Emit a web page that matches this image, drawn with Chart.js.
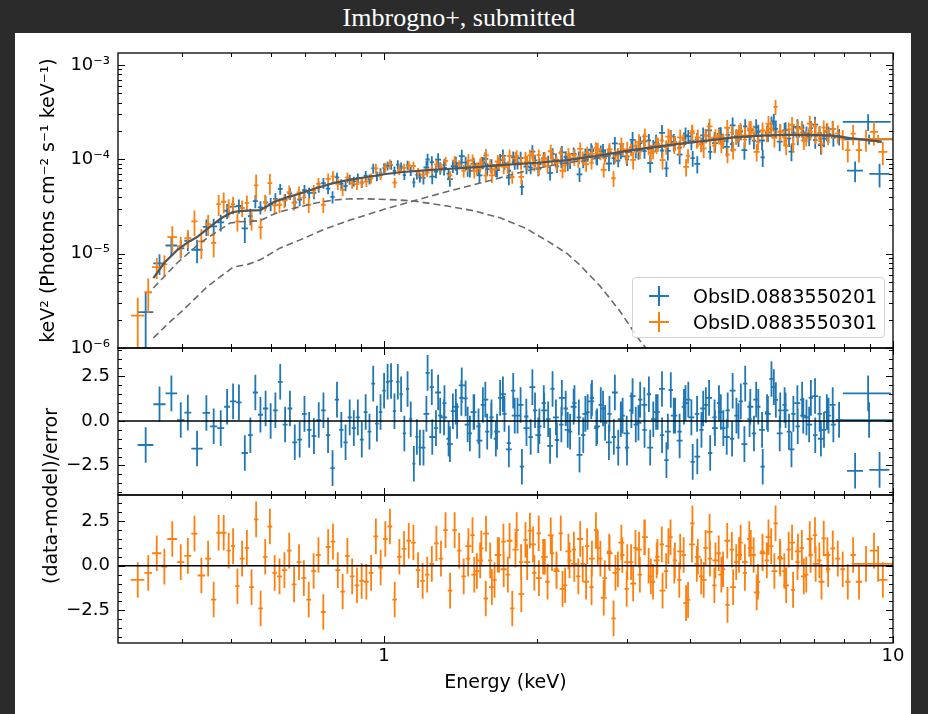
<!DOCTYPE html>
<html>
<head>
<meta charset="utf-8">
<title>Imbrogno+, submitted</title>
<script src="https://cdn.jsdelivr.net/npm/chart.js@4.4.0/dist/chart.umd.min.js"></script>
<style>
  html, body { margin: 0; padding: 0; background: #2b2b2b; }
  #page { position: relative; width: 928px; height: 714px; overflow: hidden; background: #2b2b2b; font-family: "DejaVu Sans", sans-serif; }
  #title { position: absolute; left: 0; top: 3px; width: 918px; text-align: center; color: #fff; font: 26px "Liberation Serif", serif; }
  #sheet { position: absolute; left: 15px; top: 33px; width: 896px; height: 681px; background: #fff; }
  #page canvas { position: absolute; left: 0; top: 0; }
  #residLabel { position: absolute; left: 50px; top: 496px; transform: translate(-50%, -50%) rotate(-90deg); font-size: 19px; white-space: nowrap; color: #000; }
  #legend { position: absolute; left: 632px; top: 277px; width: 253px; height: 61px; box-sizing: border-box; border: 1px solid #d4d4d4; border-radius: 4px; background: rgba(255, 255, 255, 0.8); }
  .entry { position: absolute; left: 0; width: 100%; height: 24px; }
  .mark { position: absolute; left: 16px; top: 2px; width: 20px; height: 20px; }
  .mark::before { content: ""; position: absolute; left: 0; top: 9px; width: 20px; height: 2px; background: var(--c); }
  .mark::after { content: ""; position: absolute; left: 9px; top: 0; width: 2px; height: 20px; background: var(--c); }
  .entry span { position: absolute; left: 60px; top: 0; line-height: 24px; font-size: 19px; color: #000; }
</style>
</head>
<body>
<div id="page">
  <div id="title">Imbrogno+, submitted</div>
  <div id="sheet"></div>
  <canvas id="cTop" width="928" height="714"></canvas>
  <canvas id="cMid" width="928" height="714"></canvas>
  <canvas id="cBot" width="928" height="714"></canvas>
  <div id="residLabel">(data-model)/error</div>
  <div id="legend">
    <div class="entry" style="top:6px"><div class="mark" style="--c:#1f77b4"></div><span>ObsID.0883550201</span></div>
    <div class="entry" style="top:32px"><div class="mark" style="--c:#ff7f0e"></div><span>ObsID.0883550301</span></div>
  </div>
</div>
<script>
// flux values are in units of 1e-5 keV^2 (Photons cm^-2 s^-1 keV^-1)
const FLUX_UNIT = 1e-5;

// ---- ObsID.0883550201 (blue), first binning ----
const blueEdges = [
  0.328, 0.352, 0.372, 0.392, 0.405, 0.418, 0.440, 0.455, 0.470, 0.485,
  0.498, 0.512, 0.525, 0.540, 0.552, 0.565, 0.578, 0.592, 0.605, 0.618,
  0.632, 0.646, 0.660, 0.675, 0.690, 0.705, 0.720, 0.736, 0.752, 0.768,
  0.784, 0.800, 0.816, 0.832, 0.848, 0.864, 0.880, 0.896, 0.912, 0.928,
  0.944, 0.960, 0.976, 0.992, 1.008, 1.024, 1.040, 1.056, 1.072, 1.088,
  1.104, 1.120, 1.136, 1.152, 1.168, 1.184,
  1.206, 1.229, 1.253, 1.276, 1.302, 1.326, 1.352, 1.378, 1.405, 1.432,
  1.460, 1.489, 1.518, 1.548, 1.579, 1.610, 1.642, 1.674, 1.707, 1.741,
  1.776, 1.811, 1.847, 1.884, 1.922, 1.960, 1.999, 2.039, 2.080, 2.122,
  2.164, 2.208, 2.252, 2.297, 2.343, 2.390, 2.438, 2.487, 2.536, 2.587,
  2.639, 2.692, 2.745, 2.800, 2.856, 2.913, 2.972, 3.031, 3.092, 3.154,
  3.217, 3.281, 3.347, 3.414, 3.482, 3.552, 3.623, 3.695, 3.769, 3.845,
  3.922, 4.000, 4.080, 4.162, 4.245, 4.330, 4.416, 4.505, 4.595, 4.687,
  4.780, 4.876, 4.973, 5.073, 5.174, 5.278, 5.383, 5.491, 5.601, 5.713,
  5.827, 5.944, 6.063, 6.184, 6.308, 6.434, 6.563, 6.694, 6.828, 6.964,
  7.104, 7.246, 7.391, 7.55, 7.72, 7.95, 10.0
];
const blueFlux = [
  0.24, 0.79, 1.22, 1.14, 1.37, 1.10, 1.92, 1.95, 2.15, 2.85,
  3.15, 3.20, 1.85, 2.50, 3.60, 3.10, 3.50, 3.35, 3.80, 4.85,
  3.72, 4.35, 3.50, 3.75, 4.70, 4.40, 4.40, 5.08, 5.60, 4.90,
  4.00, 6.45, 5.50, 5.20, 6.12, 5.85, 6.32, 5.65, 6.72, 6.15,
  8.00, 6.65, 7.20, 8.10, 8.55, 8.70, 7.55, 8.80, 8.35, 6.80,
  8.70, 7.50, 5.70, 6.85, 6.40,
  6.37, 9.96, 9.35, 7.43, 8.08, 8.74, 7.05, 8.45, 8.02, 9.24,
  9.28, 7.57, 8.71, 8.05, 9.21, 7.88, 8.69, 7.63, 9.88, 9.09,
  7.57, 10.5, 9.19, 5.10, 9.25, 8.18, 9.75, 8.92, 10.3, 9.50,
  11.4, 8.44, 9.47, 10.6, 9.30, 11.2, 10.5, 9.48, 11.1, 12.2,
  10.4, 12.2, 11.1, 11.9, 10.3, 9.68, 12.4, 10.0, 13.4, 12.3,
  14.9, 12.2, 15.9, 13.7, 14.5, 12.4, 8.00, 17.5, 14.9, 13.4,
  16.5, 17.5, 10.3, 16.3, 14.5, 17.8, 12.0, 16.6, 18.6, 15.6,
  18.2, 14.5, 17.7, 19.7, 22.3, 17.6, 15.8, 19.6, 10.5, 19.1,
  23.9, 21.0, 19.6, 20.4, 16.7, 19.2, 17.4, 21.3, 18.7, 21.4,
  16.0, 19.0, 16.6, 18.6, 17.0, 17.5, 16.3
];
const blueErrPct = [
  60, 25, 22, 22, 22, 28, 20, 20, 20, 18,
  17, 17, 30, 20, 16, 16, 16, 16, 15, 13,
  15, 15, 15, 15, 14, 14, 14, 13, 13, 13,
  15, 12, 12, 12, 12, 12, 12, 12, 12, 12,
  12, 12, 12, 12, 11, 11, 11, 11, 11, 11,
  11, 11, 12, 11, 11,
  15, 15, 15, 15, 15, 15, 15, 15, 15, 15,
  15, 15, 15, 15, 15, 15, 15, 15, 15, 15,
  15, 15, 15, 18, 15, 15, 15, 15, 15, 15,
  15, 15, 15, 15, 15, 15, 15, 15, 15, 15,
  15, 15, 15, 15, 15, 15, 15, 15, 17, 17,
  17, 17, 17, 17, 17, 17, 19, 17, 17, 17,
  17, 17, 19, 17, 17, 17, 17, 17, 17, 17,
  17, 17, 17, 19, 19, 19, 19, 19, 21, 19,
  19, 19, 19, 19, 19, 19, 19, 19, 19, 19,
  19, 19, 19, 20, 20, 20, 12
];
const blueResid = [
  -1.35, 0.94, 1.55, 0.05, 0.47, -1.55, 0.45, -0.3, -0.4, 0.8,
  1.1, 1.05, -1.8, -0.8, 1.6, 0.35, 0.7, 0.0, 0.6, 2.2,
  -0.2, 0.7, -1.2, -1.05, 0.4, -0.5, -0.85, 0.05, 0.6, -0.8,
  -2.65, 1.2, -0.5, -1.2, 0.2, -0.4, 0.2, -1.05, 0.5, -0.6,
  2.1, -0.15, 0.5, 1.7, 2.2, 2.25, 0.55, 2.2, 1.5, -0.7,
  1.8, 0.1, -2.4, -0.9, -1.5,
  -1.5, 2.7, 1.9, -0.4, 0.3, 1.0, -1.0, 0.55, 0.0, 1.3,
  1.27, -0.7, 0.5, -0.3, 0.9, -0.6, 0.2, -1.0, 1.3, 0.4,
  -1.25, 1.7, 0.3, -2.57, 0.25, -0.9, 0.6, -0.3, 1.0, 0.1,
  1.8, -1.07, -0.2, 0.7, -0.6, 1.0, 0.2, -0.8, 0.5, 1.3,
  -0.4, 0.9, -0.1, 0.4, -0.9, -1.5, 0.3, -1.5, 0.6, -0.2,
  1.2, -0.5, 1.5, 0.1, 0.5, -0.8, -2.2, 1.74, 0.3, -0.6,
  0.8, 1.2, -2.3, 0.4, -0.5, 0.9, -1.8, 0.2, 1.0, -0.4,
  0.6, -1.0, 0.3, 1.1, 2.1, 0.1, -0.7, 0.8, -2.57, 0.5,
  2.36, 1.18, 0.6, 0.9, -0.6, 0.4, -0.3, 1.2, 0.2, 1.3,
  -0.8, 0.4, -0.5, 0.3, -0.2, 0.06, 0.05
];

// ---- ObsID.0883550201 (blue), second binning 1.2-7.7 keV ----
const blueEdges2 = [
  1.195, 1.227, 1.260, 1.294, 1.329, 1.365, 1.402, 1.440, 1.479, 1.519,
  1.560, 1.602, 1.645, 1.689, 1.735, 1.782, 1.830, 1.879, 1.930, 1.982,
  2.036, 2.091, 2.147, 2.205, 2.265, 2.326, 2.389, 2.453, 2.519, 2.587,
  2.657, 2.729, 2.803, 2.879, 2.957, 3.037, 3.119, 3.203, 3.289, 3.378,
  3.469, 3.563, 3.659, 3.758, 3.859, 3.963, 4.070, 4.180, 4.293, 4.409,
  4.528, 4.650, 4.776, 4.905, 5.037, 5.173, 5.313, 5.456, 5.603, 5.754,
  5.910, 6.069, 6.233, 6.401, 6.574, 6.752, 6.934, 7.121, 7.313, 7.511,
  7.714
];
const blueFlux2 = [
  8.19, 6.55, 9.92, 8.13, 6.18, 9.09, 10.83, 7.88, 8.94, 6.77,
  10.13, 8.50, 7.71, 10.89, 6.39, 9.32, 10.31, 8.39, 12.04, 7.95,
  10.25, 7.19, 9.87, 11.84, 9.01, 11.42, 6.94, 11.16, 12.64, 10.34,
  12.42, 9.03, 14.76, 12.1, 10.75, 16.11, 12.53, 15.52, 9.14, 15.03,
  19.09, 12.32, 15.31, 11.23, 17.97, 15.79, 8.93, 17.95, 20.24, 14.84,
  18.12, 13.54, 22.93, 17.05, 12.54, 20.32, 21.97, 15.84, 19.35, 25.18,
  15.44, 20.44, 12.08, 22.02, 19.35, 17.39, 23.36, 14.18, 19.72, 21.05
];
const blueErrPct2 = [
  17, 17, 17, 17, 17, 17, 17, 17, 17, 17,
  17, 17, 17, 17, 17, 17, 17, 17, 17, 17,
  17, 17, 17, 17, 17, 17, 17, 17, 17, 17,
  17, 17, 17, 17, 17, 21, 21, 21, 21, 21,
  21, 21, 21, 21, 21, 21, 21, 21, 21, 21,
  21, 21, 21, 21, 21, 21, 21, 21, 21, 21,
  21, 21, 21, 21, 21, 21, 21, 21, 21, 21
];
const blueResid2 = [
  0.4, -0.9, 1.6, 0.2, -1.3, 0.8, 2.0, -0.2, 0.5, -1.1,
  1.2, 0.0, -0.6, 1.5, -1.6, 0.3, 0.9, -0.4, 1.9, -0.8,
  0.6, -1.4, 0.2, 1.3, -0.5, 0.8, -1.9, 0.4, 1.1, -0.3,
  0.7, -1.2, 1.6, 0.1, -0.7, 1.4, -0.1, 0.9, -1.5, 0.5,
  1.8, -0.6, 0.3, -1.1, 1.0, 0.2, -2.0, 0.7, 1.3, -0.4,
  0.5, -0.9, 1.7, 0.0, -1.3, 0.8, 1.2, -0.5, 0.4, 1.9,
  -0.7, 0.6, -1.6, 1.0, 0.3, -0.2, 1.4, -1.0, 0.5, 0.9
];
// overlapping high-energy bins
const blueExtraLo = [8.12, 8.98, 7.97];
const blueExtraHi = [8.73, 9.84, 9.90];
const blueExtraFlux = [7.6, 7.0, 25.0];
const blueExtraErrPct = [25, 28, 20];
const blueExtraResid = [-2.8, -2.75, 1.55];

// ---- ObsID.0883550301 (orange), first binning ----
const orangeEdges = [
  0.318, 0.338, 0.350, 0.365, 0.375, 0.392, 0.405, 0.418, 0.430, 0.445,
  0.457, 0.468, 0.478, 0.490, 0.500, 0.510, 0.520, 0.532, 0.543, 0.555,
  0.566, 0.578, 0.590, 0.603, 0.616, 0.630, 0.644, 0.658, 0.673, 0.688,
  0.703, 0.719, 0.735, 0.751, 0.768, 0.785, 0.802, 0.820, 0.838, 0.856,
  0.875, 0.894, 0.913, 0.933, 0.953, 0.974, 0.995, 1.016, 1.038, 1.060,
  1.083, 1.106, 1.130, 1.154, 1.178, 1.203, 1.228, 1.254, 1.280, 1.307,
  1.334, 1.362, 1.390, 1.419,
  1.448, 1.477, 1.507, 1.537, 1.568, 1.600, 1.632, 1.665, 1.699, 1.733,
  1.768, 1.804, 1.840, 1.877, 1.915, 1.954, 1.993, 2.033, 2.074, 2.116,
  2.159, 2.202, 2.246, 2.291, 2.337, 2.384, 2.432, 2.481, 2.531, 2.582,
  2.634, 2.687, 2.741, 2.796, 2.852, 2.909, 2.967, 3.027, 3.088, 3.150,
  3.213, 3.277, 3.343, 3.410, 3.478, 3.548, 3.619, 3.691, 3.765, 3.840,
  3.917, 3.995, 4.075, 4.157, 4.240, 4.325, 4.412, 4.500, 4.590, 4.682,
  4.776, 4.871, 4.968, 5.067, 5.168, 5.271, 5.376, 5.484, 5.594, 5.706,
  5.820, 5.936, 6.055, 6.176, 6.300, 6.426, 6.555, 6.686, 6.820, 6.956,
  7.095, 7.237, 7.382, 7.530, 7.70, 7.88, 8.05, 8.25, 8.45, 8.70,
  9.00, 9.35, 9.75
];
const orangeFlux = [
  0.22, 0.39, 0.72, 0.77, 1.50, 1.20, 1.46, 2.20, 1.35, 2.05,
  1.30, 3.35, 3.55, 3.10, 3.35, 2.20, 3.05, 3.45, 2.25, 5.30,
  1.90, 3.50, 5.60, 3.25, 3.30, 3.65, 4.50, 3.45, 4.45, 3.95,
  3.30, 4.65, 5.50, 3.30, 6.20, 6.60, 5.50, 4.75, 6.40, 5.60,
  5.45, 5.70, 5.80, 6.30, 8.00, 6.80, 8.20, 8.90, 5.65, 7.70,
  8.10, 8.60, 8.50, 7.30, 6.90, 7.25, 7.80, 8.85, 8.20, 9.60,
  6.75, 9.75, 8.80,
  7.57, 8.53, 9.80, 8.03, 9.25, 6.72, 8.76, 7.80, 9.19, 9.98,
  8.28, 6.50, 10.85, 9.14, 10.4, 11.0, 8.73, 11.07, 9.81, 8.45,
  10.2, 9.35, 11.6, 8.60, 10.3, 11.1, 9.55, 10.5, 11.8, 9.20,
  13.2, 11.5, 10.3, 12.4, 6.30, 11.5, 12.8, 10.45, 12.7, 13.9,
  12.1, 15.7, 13.3, 12.1, 14.4, 15.9, 13.5, 17.3, 14.95, 13.0,
  16.0, 10.9, 19.9, 15.6, 14.3, 17.9, 16.8, 14.0, 17.9, 16.1,
  11.2, 19.2, 17.5, 20.4, 16.2, 21.3, 19.2, 15.3, 20.0, 18.7,
  21.1, 36.0, 19.5, 17.3, 20.7, 14.5, 18.7, 20.9, 16.9, 19.6,
  22.4, 18.7, 21.7, 17.4, 21.0, 18.8, 16.5, 12.5, 18.7, 12.5,
  16.3, 19.5, 12.0
];
const orangeErrPct = [
  55, 40, 25, 25, 30, 25, 22, 30, 35, 25,
  30, 25, 25, 22, 20, 22, 20, 20, 22, 30,
  25, 20, 25, 18, 18, 17, 17, 17, 16, 16,
  18, 15, 15, 18, 14, 14, 14, 14, 13, 13,
  13, 12, 12, 12, 12, 12, 12, 12, 12, 12,
  11, 11, 11, 11, 11, 11, 11, 11, 11, 11,
  11, 11, 11,
  15, 15, 15, 15, 15, 15, 15, 15, 15, 15,
  15, 15, 15, 15, 15, 15, 15, 15, 15, 15,
  15, 15, 15, 15, 15, 15, 15, 15, 15, 15,
  15, 15, 15, 15, 19, 15, 15, 15, 15, 17,
  17, 17, 17, 17, 17, 17, 17, 17, 17, 17,
  17, 17, 17, 17, 17, 17, 17, 17, 17, 17,
  19, 19, 19, 19, 19, 19, 19, 19, 19, 19,
  19, 18, 19, 19, 19, 19, 19, 19, 19, 19,
  19, 19, 19, 19, 22, 22, 24, 26, 24, 26,
  26, 28, 28
];
const orangeResid = [
  -0.8, -0.4, 0.7, -0.05, 1.5, 0.2, 0.55, 1.8, -0.55, 0.4,
  -1.9, 1.85, 1.85, 0.85, 1.1, -1.15, 0.4, 1.0, -1.2, 2.6,
  -2.4, 0.5, 2.2, -0.4, -0.6, -0.25, 0.85, -1.05, 0.2, -0.7,
  -1.9, -0.3, 0.6, -2.6, 1.05, 1.35, -0.25, -1.45, 0.55, -0.6,
  -1.1, -0.85, -0.9, -0.4, 1.65, -0.1, 1.5, 2.2, -1.9, 0.5,
  0.95, 1.4, 1.3, -0.25, -0.85, -0.5, 0.1, 1.25, 0.4, 2.0,
  -1.4, 2.0, 0.85,
  -0.6, 0.4, 1.72, -0.3, 0.97, -1.84, 0.3, -0.8, 0.6, 1.35,
  -0.5, -2.4, 2.0, 0.2, 1.45, 1.97, -0.4, 1.82, 0.5, -0.9,
  0.7, -0.2, 1.82, -1.1, 0.3, 0.9, -0.6, 0.1, 1.1, -1.2,
  2.0, 0.4, -0.7, 0.8, -2.96, -0.2, 0.6, -1.3, 0.2, 1.0,
  -0.5, 1.6, 0.0, -0.9, 0.5, 1.2, -0.3, 1.6, 0.3, -0.8,
  0.6, -1.92, 2.38, 0.1, -0.6, 1.0, 0.4, -1.1, 0.7, -0.2,
  -2.2, 0.9, 0.2, 1.3, -0.4, 1.5, 0.6, -0.9, 0.8, 0.3,
  1.1, 2.38, 0.5, -0.3, 0.9, -1.36, 0.2, 1.0, -0.5, 0.6,
  1.72, 0.3, 1.53, -0.2, 0.97, 0.4, -0.2, -0.9, 0.6, -0.9,
  0.1, 0.85, -0.8
];

// ---- ObsID.0883550301 (orange), second binning 1.45-7.5 keV ----
const orangeEdges2 = [
  1.445, 1.484, 1.524, 1.565, 1.607, 1.650, 1.695, 1.741, 1.788, 1.836,
  1.885, 1.936, 1.988, 2.042, 2.097, 2.154, 2.212, 2.272, 2.333, 2.396,
  2.461, 2.527, 2.595, 2.665, 2.737, 2.811, 2.887, 2.965, 3.045, 3.127,
  3.211, 3.298, 3.387, 3.478, 3.572, 3.668, 3.767, 3.869, 3.973, 4.080,
  4.190, 4.303, 4.419, 4.538, 4.661, 4.787, 4.916, 5.049, 5.185, 5.325,
  5.469, 5.617, 5.769, 5.925, 6.085, 6.249, 6.418, 6.591, 6.769, 6.952,
  7.140, 7.333, 7.531
];
const orangeFlux2 = [
  9.70, 7.55, 8.74, 11.0, 6.77, 9.48, 8.39, 10.89, 10.24, 6.51,
  9.33, 10.97, 8.11, 10.11, 12.18, 9.08, 7.57, 11.22, 10.24, 12.9,
  8.87, 11.43, 12.75, 7.74, 12.76, 10.86, 14.53, 12.71, 9.88, 15.22,
  17.5, 11.71, 14.46, 9.81, 17.42, 14.4, 17.11, 8.33, 18.97, 17.07,
  13.06, 22.31, 17.22, 14.72, 21.61, 12.64, 19.2, 17.97, 21.05, 12.02,
  20.3, 23.85, 16.87, 19.62, 13.96, 23.17, 21.26, 15.91, 23.87, 18.43,
  14.56, 20.1
];
const orangeErrPct2 = [
  17, 17, 17, 17, 17, 17, 17, 17, 17, 17,
  17, 17, 17, 17, 17, 17, 17, 17, 17, 17,
  17, 17, 17, 17, 17, 17, 17, 21, 21, 21,
  21, 21, 21, 21, 21, 21, 21, 21, 21, 21,
  21, 21, 21, 21, 21, 21, 21, 21, 21, 21,
  21, 21, 21, 21, 21, 21, 21, 21, 21, 21,
  21, 21
];
const orangeResid2 = [
  1.1, -0.5, 0.3, 1.8, -1.2, 0.6, -0.2, 1.4, 0.9, -1.6,
  0.2, 1.2, -0.7, 0.5, 1.7, -0.3, -1.3, 0.8, 0.1, 1.5,
  -0.9, 0.4, 1.0, -1.8, 0.7, -0.4, 1.3, 0.2, -1.0, 0.9,
  1.6, -0.6, 0.3, -1.4, 1.1, 0.0, 0.8, -2.1, 1.2, 0.5,
  -0.8, 1.9, 0.3, -0.5, 1.4, -1.2, 0.6, 0.2, 1.0, -1.5,
  0.7, 1.6, -0.3, 0.4, -1.1, 1.3, 0.8, -0.6, 1.5, 0.1,
  -0.9, 0.6
];
const orangeExtraLo = [8.30];
const orangeExtraHi = [10.4];
const orangeExtraFlux = [16.5];
const orangeExtraErrPct = [10];
const orangeExtraResid = [0.1];

// ---- model curves ----
const modelE = [0.352, 0.37, 0.392, 0.41, 0.429, 0.445, 0.462, 0.48, 0.503, 0.52, 0.54, 0.571, 0.59, 0.606, 0.64, 0.684, 0.74, 0.794, 0.86, 0.926, 1.0, 1.075, 1.2, 1.35, 1.544, 1.69, 2.0, 2.29, 2.6, 3.09, 3.5, 3.87, 4.4, 4.85, 5.5, 6.08, 6.8, 7.63, 8.23, 9.0, 9.5];
const modelY = [0.55, 0.8, 1.09, 1.3, 1.5, 1.75, 2.06, 2.4, 2.75, 2.83, 2.86, 2.9, 3.2, 3.5, 3.9, 4.35, 5.0, 5.6, 6.1, 6.5, 6.95, 7.3, 7.65, 7.95, 8.3, 8.7, 9.2, 9.8, 10.8, 12.6, 13.8, 14.8, 16.0, 17.1, 17.8, 18.2, 18.2, 17.8, 16.8, 15.9, 15.4];
const bbodyE = [0.352, 0.392, 0.435, 0.47, 0.498, 0.52, 0.545, 0.571, 0.6, 0.625, 0.68, 0.725, 0.794, 0.846, 0.909, 0.982, 1.06, 1.14, 1.33, 1.5, 1.69, 1.9, 2.1, 2.29, 2.43, 2.66, 2.9, 3.18, 3.35];
const bbodyY = [0.433, 0.796, 1.30, 1.72, 2.11, 2.18, 2.2, 2.24, 2.55, 2.79, 3.12, 3.4, 3.7, 3.8, 3.82, 3.77, 3.72, 3.62, 3.2, 2.85, 2.4, 1.85, 1.35, 1.0, 0.75, 0.45, 0.25, 0.12, 0.085];
const powlawE = [0.352, 0.38, 0.403, 0.45, 0.505, 0.54, 0.571, 0.625, 0.684, 0.76, 0.857, 1.0, 1.14, 1.3, 1.544, 1.75, 1.935, 2.2, 2.6, 3.09, 3.87, 4.85, 6.08, 7.63, 8.23, 9.5];
const powlawY = [0.128, 0.19, 0.253, 0.45, 0.72, 0.77, 0.86, 1.15, 1.40, 1.8, 2.27, 2.95, 3.61, 4.4, 5.6, 6.7, 7.7, 8.9, 10.2, 12.2, 14.6, 17.0, 18.1, 17.7, 16.7, 15.3];

// ---- axes ----
const X_MIN = 0.3, X_MAX = 10;
const X_MAJOR = [1, 10];
const X_MINOR = [0.4, 0.5, 0.6, 0.7, 0.8, 0.9, 2, 3, 4, 5, 6, 7, 8, 9];
const FLUX_MIN = 1e-6, FLUX_MAX = 1.34e-3;
const FLUX_MAJOR = [1e-6, 1e-5, 1e-4, 1e-3];
const FLUX_MINOR_MANT = [2, 3, 4, 5, 6, 7, 8, 9];
const MID_MIN = -4.16, MID_MAX = 4.1;
const BOT_MIN = -4.34, BOT_MAX = 3.97;
const RESID_MAJOR = [-2.5, 0, 2.5];
const RESID_MINOR = [-4, -3.5, -3, -2, -1.5, -1, -0.5, 0.5, 1, 1.5, 2, 3, 3.5, 4];

const BLUE = '#1f77b4', ORANGE = '#ff7f0e';
const W = 928, H = 714;
const AREA_LEFT = 118, AREA_RIGHT = 893, Y_AXIS_W = 80;
const PANEL_TOP = [53, 348], PANEL_MID = [348, 495], PANEL_BOT = [495, 643];

Chart.defaults.font.family = "'DejaVu Sans', sans-serif";
Chart.defaults.color = '#000';

function spectrumPoints(lo, hi, flux, errPct) {
  return flux.map((f, i) => {
    const e = f * errPct[i] / 100;
    return { x: (lo[i] + hi[i]) / 2, y: f * FLUX_UNIT, xMin: lo[i], xMax: hi[i], yMin: (f - e) * FLUX_UNIT, yMax: (f + e) * FLUX_UNIT };
  });
}
function residPoints(lo, hi, resid) {
  return resid.map((r, i) => ({ x: (lo[i] + hi[i]) / 2, y: r, xMin: lo[i], xMax: hi[i], yMin: r - 1, yMax: r + 1 }));
}
function curve(es, ys, unit) {
  return es.map((e, i) => ({ x: e, y: ys[i] * unit }));
}
const lows = edges => edges.slice(0, -1);
const highs = edges => edges.slice(1);

const blueLo = lows(blueEdges).concat(lows(blueEdges2), blueExtraLo);
const blueHi = highs(blueEdges).concat(highs(blueEdges2), blueExtraHi);
const orangeLo = lows(orangeEdges).concat(lows(orangeEdges2), orangeExtraLo);
const orangeHi = highs(orangeEdges).concat(highs(orangeEdges2), orangeExtraHi);

const blueSpec = spectrumPoints(blueLo, blueHi, blueFlux.concat(blueFlux2, blueExtraFlux), blueErrPct.concat(blueErrPct2, blueExtraErrPct));
const orangeSpec = spectrumPoints(orangeLo, orangeHi, orangeFlux.concat(orangeFlux2, orangeExtraFlux), orangeErrPct.concat(orangeErrPct2, orangeExtraErrPct));
const blueRes = residPoints(blueLo, blueHi, blueResid.concat(blueResid2, blueExtraResid));
const orangeRes = residPoints(orangeLo, orangeHi, orangeResid.concat(orangeResid2, orangeExtraResid));

// error bars drawn through the chart scales, before the lines
const errorBars = {
  id: 'errorBars',
  beforeDatasetsDraw(chart) {
    const { ctx, chartArea: a, scales: { x, y } } = chart;
    ctx.save();
    ctx.beginPath();
    ctx.rect(a.left, a.top, a.right - a.left, a.bottom - a.top);
    ctx.clip();
    ctx.lineWidth = 1.8;
    ctx.lineCap = 'butt';
    chart.data.datasets.forEach(ds => {
      if (!ds.errorBars) return;
      ctx.strokeStyle = ds.errorColor;
      ctx.beginPath();
      ds.data.forEach(p => {
        const px = x.getPixelForValue(p.x);
        const py = y.getPixelForValue(p.y);
        const low = (y.type === 'logarithmic' && p.yMin <= 0) ? y.min / 10 : p.yMin;
        ctx.moveTo(x.getPixelForValue(p.xMin), py);
        ctx.lineTo(x.getPixelForValue(p.xMax), py);
        ctx.moveTo(px, y.getPixelForValue(low));
        ctx.lineTo(px, y.getPixelForValue(p.yMax));
      });
      ctx.stroke();
    });
    ctx.restore();
  }
};

// frame and inward ticks on all four sides
const frameTicks = {
  id: 'frameTicks',
  afterDraw(chart, args, opts) {
    const { ctx, chartArea: a, scales: { x, y } } = chart;
    ctx.save();
    ctx.strokeStyle = '#000';
    ctx.lineWidth = 1;
    ctx.beginPath();
    const xt = (v, len) => {
      const px = Math.round(x.getPixelForValue(v)) + 0.5;
      ctx.moveTo(px, a.bottom); ctx.lineTo(px, a.bottom - len);
      ctx.moveTo(px, a.top); ctx.lineTo(px, a.top + len);
    };
    const yt = (v, len) => {
      const py = Math.round(y.getPixelForValue(v)) + 0.5;
      ctx.moveTo(a.left, py); ctx.lineTo(a.left + len, py);
      ctx.moveTo(a.right, py); ctx.lineTo(a.right - len, py);
    };
    X_MAJOR.forEach(v => xt(v, 7));
    X_MINOR.forEach(v => xt(v, 4));
    opts.major.forEach(v => yt(v, 7));
    opts.minor.forEach(v => yt(v, 4));
    ctx.stroke();
    ctx.lineWidth = 1.3;
    ctx.strokeRect(a.left, a.top, a.right - a.left, a.bottom - a.top);
    ctx.restore();
  }
};

const SUP = { '-': '\u207B', '0': '\u2070', '1': '\u00B9', '2': '\u00B2', '3': '\u00B3', '4': '\u2074', '5': '\u2075', '6': '\u2076', '7': '\u2077', '8': '\u2078', '9': '\u2079' };
function powLabel(v) {
  const e = Math.round(Math.log10(v));
  return '10' + String(e).split('').map(c => SUP[c]).join('');
}
function residLabel(v) {
  if (Math.abs(v) < 1e-9) return '0.0';
  return (v < 0 ? '\u2212' : '') + Math.abs(v).toFixed(1);
}

function xScale(showLabels) {
  return {
    type: 'logarithmic', min: X_MIN, max: X_MAX, position: 'bottom',
    afterFit: s => { s.height = showLabels ? H - PANEL_BOT[1] : 0; },
    afterBuildTicks: s => { s.ticks = X_MAJOR.map(v => ({ value: v })); },
    grid: { display: false, drawTicks: false },
    border: { display: false },
    ticks: { display: showLabels, callback: v => String(v), padding: 3, maxRotation: 0, autoSkip: false, font: { size: 18 } },
    title: { display: showLabels, text: 'Energy (keV)', font: { size: 19 }, padding: { top: 0, bottom: 20 } }
  };
}

function makeChart(id, panel, xHeight, yScale, datasets, tickOpts, showX) {
  return new Chart(document.getElementById(id), {
    type: 'scatter',
    data: { datasets: datasets },
    options: {
      responsive: false,
      animation: false,
      devicePixelRatio: 1,
      layout: { padding: { left: AREA_LEFT - Y_AXIS_W, right: W - AREA_RIGHT, top: panel[0], bottom: H - panel[1] - xHeight } },
      scales: { x: xScale(showX), y: yScale },
      plugins: { legend: { display: false }, tooltip: { enabled: false }, frameTicks: tickOpts }
    },
    plugins: [errorBars, frameTicks]
  });
}

function lineSet(data, color, width, dash) {
  return { data: data, showLine: true, borderColor: color, borderWidth: width, borderDash: dash, pointRadius: 0, tension: 0, clip: 0 };
}
function barSet(data, color) {
  return { data: data, errorBars: true, errorColor: color, pointRadius: 0, showLine: false };
}

const fluxMinor = [];
FLUX_MAJOR.forEach(d => FLUX_MINOR_MANT.forEach(m => { if (d * m <= FLUX_MAX) fluxMinor.push(d * m); }));

// top: unfolded spectrum
makeChart('cTop', PANEL_TOP, 0, {
  type: 'logarithmic', min: FLUX_MIN, max: FLUX_MAX,
  afterFit: s => { s.width = Y_AXIS_W; },
  afterBuildTicks: s => { s.ticks = FLUX_MAJOR.map(v => ({ value: v })); },
  grid: { display: false, drawTicks: false },
  border: { display: false },
  ticks: { callback: v => powLabel(v), padding: 8, font: { size: 18 } },
  title: { display: true, text: 'keV\u00B2 (Photons cm\u207B\u00B2 s\u207B\u00B9 keV\u207B\u00B9)', font: { size: 19 }, padding: 0 }
}, [
  lineSet(curve(modelE, modelY, FLUX_UNIT), '#555555', 2.2, []),
  lineSet(curve(bbodyE, bbodyY, FLUX_UNIT), '#6a6a6a', 1.6, [7, 4]),
  lineSet(curve(powlawE, powlawY, FLUX_UNIT), '#6a6a6a', 1.6, [7, 4]),
  barSet(blueSpec, BLUE),
  barSet(orangeSpec, ORANGE)
], { major: FLUX_MAJOR, minor: fluxMinor }, false);

function residY(min, max) {
  return {
    type: 'linear', min: min, max: max,
    afterFit: s => { s.width = Y_AXIS_W; },
    afterBuildTicks: s => { s.ticks = RESID_MAJOR.map(v => ({ value: v })); },
    grid: { display: false, drawTicks: false },
    border: { display: false },
    ticks: { callback: v => residLabel(v), padding: 8, font: { size: 18 } }
  };
}
const zeroLine = [{ x: X_MIN, y: 0 }, { x: X_MAX, y: 0 }];

makeChart('cMid', PANEL_MID, 0, residY(MID_MIN, MID_MAX), [
  lineSet(zeroLine, '#000', 1.5, []),
  barSet(blueRes, BLUE)
], { major: RESID_MAJOR, minor: RESID_MINOR }, false);

makeChart('cBot', PANEL_BOT, H - PANEL_BOT[1], residY(BOT_MIN, BOT_MAX), [
  lineSet(zeroLine, '#000', 1.5, []),
  barSet(orangeRes, ORANGE)
], { major: RESID_MAJOR, minor: RESID_MINOR }, true);
</script>
</body>
</html>
